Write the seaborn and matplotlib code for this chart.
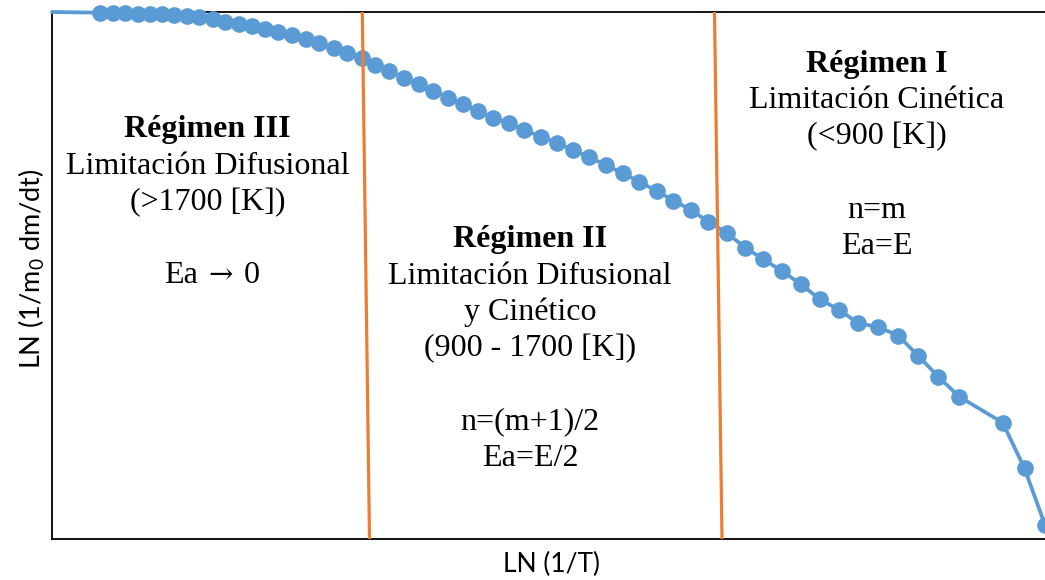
import matplotlib
matplotlib.use("Agg")
import matplotlib.pyplot as plt
import seaborn as sns
import pandas as pd

# ---- data (arbitrary units; no tick labels in original) ----
curve_x = [48, 60.7, 73, 85.7, 98, 109.7, 122.3, 134.7, 147.3, 160.7, 173, 187, 200.3,
           213, 226.3, 239.7, 254, 267.3, 282, 295.3, 309.7, 323, 337.3, 352.3, 367,
           381.3, 396.3, 411.3, 426.3, 441.3, 457, 472, 488.7, 504.7, 520.7, 537.3,
           554, 570.7, 587.3, 604.7, 621.3, 639, 656.3, 674.7, 693, 711.3, 730, 748.5,
           768, 787.3, 806.3, 826, 846.3, 866.3, 886.3, 907, 950.7, 972.5, 993]
curve_y = [526.3, 525.7, 525.7, 525.3, 525, 524.7, 524, 523, 521.7, 519.7, 517.3, 515,
           513, 509.7, 507.3, 504, 499.7, 495.7, 490.7, 485.7, 480.7, 474, 468, 461.3,
           454.7, 448, 441.3, 434.7, 428, 421.3, 415.7, 409, 402.5, 396.3, 389, 381.7,
           374, 365.7, 357.3, 348, 338.5, 329, 317.3, 306.3, 291.5, 279.7, 268, 255,
           239.7, 229, 215.7, 212, 203.5, 183, 162.3, 142.5, 116.3, 70.7, 14]
lead_x = [0]          # clipped start of the curve along the top of the plot
lead_y = [527]

boundary_top_x = [310.3, 662.5]
boundary_bottom_x = [317.5, 670.0]

regimes = [
    ["Régimen III", "Limitación Difusional", "(>1700 [K])", "", None],
    ["Régimen II", "Limitación Difusional", "y Cinético", "(900 - 1700 [K])", "",
     "n=(m+1)/2", "Ea=E/2"],
    ["Régimen I", "Limitación Cinética", "(<900 [K])", "", "n=m", "Ea=E"],
]
arrow_parts = ["Ea", "\u2192", "0"]

xlabel = "LN (1/T)"
ylabel = "LN (1/m$_0$ dm/dt)"

# ---- styling ----
W, H = 1045, 580
BLUE = "#5B9BD5"
ORANGE = "#ED7D31"

sns.set_theme(style="white")
plt.rcParams["mathtext.fontset"] = "custom"
plt.rcParams["mathtext.rm"] = "Lato"
plt.rcParams["mathtext.it"] = "Lato"

fig = plt.figure(figsize=(W / 100, H / 100), dpi=100)
ax_l, ax_b, ax_t, ax_r = 52, 539, 12, 1046
ax = fig.add_axes([ax_l / W, (H - ax_b) / H, (ax_r - ax_l) / W, (ax_b - ax_t) / H])

df = pd.DataFrame({"x": lead_x + curve_x, "y": lead_y + curve_y})
sns.lineplot(data=df, x="x", y="y", ax=ax, sort=False, color=BLUE, linewidth=2.7,
             marker="o", markersize=12, markeredgewidth=0, markevery=list(range(1, len(df))),
             clip_on=False, zorder=3)

for xt, xb in zip(boundary_top_x, boundary_bottom_x):
    bdf = pd.DataFrame({"x": [xt, xb], "y": [527, 0]})
    sns.lineplot(data=bdf, x="x", y="y", ax=ax, sort=False, color=ORANGE,
                 linewidth=2.3, zorder=4)

ax.set_xlim(0, ax_r - ax_l)
ax.set_ylim(0, ax_b - ax_t)
ax.set_xticks([])
ax.set_yticks([])
ax.set_xlabel("")
ax.set_ylabel("")
for side in ["left", "bottom", "top"]:
    ax.spines[side].set_color("black")
    ax.spines[side].set_linewidth(1.3)
ax.spines["right"].set_visible(False)

# ---- regime annotations ----
serif = ["Liberation Serif", "DejaVu Serif"]
centers = [207.5, 530, 877]
first_baselines = [137.3, 247, 71.7]
step = 36.5
for lines, cx, by in zip(regimes, centers, first_baselines):
    for i, line in enumerate(lines):
        y = 1 - (by + i * step) / H
        if line is None:
            # "Ea → 0" with a long arrow
            fig.text(198 / W, y, arrow_parts[0], ha="right", va="baseline",
                     fontsize=23, family=serif, color="black")
            fig.text(221 / W, y, arrow_parts[1], ha="center", va="baseline",
                     fontsize=21, family=["DejaVu Serif"], color="black")
            fig.text(244 / W, y, arrow_parts[2], ha="left", va="baseline",
                     fontsize=23, family=serif, color="black")
            continue
        if not line:
            continue
        fig.text(cx / W, y, line, ha="center", va="baseline",
                 fontsize=23, family=serif, fontweight="bold" if i == 0 else "normal",
                 color="black")

fig.text(551.7 / W, 1 - 564 / H, xlabel, ha="center", va="center",
         fontsize=19, family=["Lato", "DejaVu Sans"], color="black")
fig.text(32 / W, 1 - 269 / H, ylabel, ha="center", va="center", rotation=90,
         fontsize=19.5, family=["Lato", "DejaVu Sans"], color="black")

fig.savefig("out.png", dpi=100)
